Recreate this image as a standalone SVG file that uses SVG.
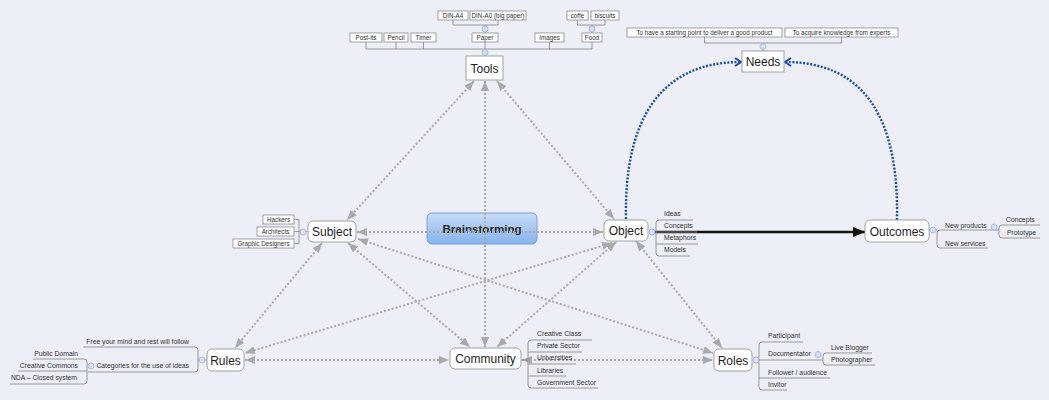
<svg xmlns="http://www.w3.org/2000/svg" width="1049" height="400" viewBox="0 0 1049 400">
<defs>
<style>
.bg{fill:#edeef6}
.node{fill:#fff;stroke:#a2a2a2;stroke-width:1}
.nt{font-family:"Liberation Sans","DejaVu Sans",sans-serif;font-size:12px;fill:#1e1e1e;text-anchor:middle}
.box{fill:#fff;stroke:#8c8c8c;stroke-width:0.8}
.bt{font-family:"Liberation Sans","DejaVu Sans",sans-serif;font-size:6.3px;fill:#333;text-anchor:middle}
.lt{font-family:"Liberation Sans","DejaVu Sans",sans-serif;font-size:6.8px;fill:#333}
.ltr{font-family:"Liberation Sans","DejaVu Sans",sans-serif;font-size:6.8px;fill:#333;text-anchor:end}
.tree{fill:none;stroke:#8e8e8e;stroke-width:0.9}
.dot{fill:#d6e0f3;stroke:#9db2da;stroke-width:0.8}
.rel{fill:none;stroke:#aaaaaa;stroke-width:2;stroke-dasharray:2 2;marker-start:url(#ga);marker-end:url(#ga)}
.need{fill:none;stroke:#1c4d9e;stroke-width:2.4;stroke-dasharray:2 1.6;marker-end:url(#ba)}
</style>
<marker id="ga" viewBox="0 0 10 8" refX="10" refY="4" markerWidth="10" markerHeight="8" markerUnits="userSpaceOnUse" orient="auto-start-reverse">
<path d="M0,0 L10,4 L0,8 Z" fill="#a9a9a9"/>
</marker>
<marker id="ba" viewBox="0 0 8 10" refX="7" refY="5" markerWidth="8" markerHeight="10" markerUnits="userSpaceOnUse" orient="auto">
<path d="M1,1 L7,5 L1,9" fill="none" stroke="#1c4d9e" stroke-width="2"/>
</marker>
<marker id="ka" viewBox="0 0 12 10" refX="12" refY="5" markerWidth="12" markerHeight="10" markerUnits="userSpaceOnUse" orient="auto">
<path d="M0,0 L12,5 L0,10 Z" fill="#111"/>
</marker>
<linearGradient id="bgrad" x1="0" y1="0" x2="0" y2="1">
<stop offset="0" stop-color="#c9dcf7"/>
<stop offset="0.5" stop-color="#a9c8f3"/>
<stop offset="1" stop-color="#86b3ee"/>
</linearGradient>
</defs>
<rect class="bg" x="0" y="0" width="1049" height="400"/>

<g id="brainstorming">
<rect x="427" y="213" width="110" height="31" rx="5" fill="url(#bgrad)" stroke="#7d9fd0" stroke-width="1"/>
<text x="482" y="233" font-family="Liberation Sans, DejaVu Sans, sans-serif" font-size="11.6" font-weight="bold" fill="#2a2a2a" text-anchor="middle">Brainstorming</text>
</g>

<g id="connectors">
<path class="rel" d="M474,81 L347,220"/>
<path class="rel" d="M497,81 L614,219"/>
<path class="rel" d="M485,81 L485,347"/>
<path class="rel" d="M357,232 L603,232"/>
<path class="rel" d="M322,243 L235,348"/>
<path class="rel" d="M348,243 L470,347"/>
<path class="rel" d="M358,239 L713,353"/>
<path class="rel" d="M612,243 L245,353"/>
<path class="rel" d="M616,242 L497,347"/>
<path class="rel" d="M636,241 L722,348"/>
<path class="rel" d="M245,360 L449,360"/>
<path class="rel" d="M522,360 L713,360"/>
<path class="need" d="M626,219 C624,120 660,62 741,62"/>
<path class="need" d="M897,220 C899,120 866,62 785,62"/>
<path d="M652,232 L865,232" fill="none" stroke="#111" stroke-width="2.4" marker-end="url(#ka)"/>
</g>

<g id="tools">
<path class="tree" d="M366,42 V49 H592 V42 M396,42 V49 M423.5,42 V49 M485,42 V56 M549.5,42 V49"/>
<path class="tree" d="M453,20 V25 H498 V20 M485,25 V33 M577.5,20 V25 H605 V20 M592,25 V33"/>
<circle class="dot" cx="485" cy="52.5" r="3"/>
<circle class="dot" cx="485" cy="29" r="3"/>
<circle class="dot" cx="592" cy="29" r="3"/>
<rect class="node" x="466" y="56" width="37" height="24" rx="0"/>
<text class="nt" x="484.5" y="72.5">Tools</text>
<rect class="box" x="438" y="11" width="30" height="9"/><text class="bt" x="453" y="18">DIN-A4</text>
<rect class="box" x="470" y="11" width="56" height="9"/><text class="bt" x="498" y="18">DIN-A0 (big paper)</text>
<rect class="box" x="567" y="11" width="21" height="9"/><text class="bt" x="577.5" y="18">coffe</text>
<rect class="box" x="591" y="11" width="28" height="9"/><text class="bt" x="605" y="18">biscuits</text>
<rect class="box" x="350" y="33" width="32" height="9"/><text class="bt" x="366" y="40">Post-its</text>
<rect class="box" x="384" y="33" width="24" height="9"/><text class="bt" x="396" y="40">Pencil</text>
<rect class="box" x="411" y="33" width="25" height="9"/><text class="bt" x="423.5" y="40">Timer</text>
<rect class="box" x="472" y="33" width="26" height="9"/><text class="bt" x="485" y="40">Paper</text>
<rect class="box" x="535" y="33" width="29" height="9"/><text class="bt" x="549.5" y="40">Images</text>
<rect class="box" x="582" y="33" width="20" height="9"/><text class="bt" x="592" y="40">Food</text>
</g>

<g id="needs">
<path class="tree" d="M704.5,37 V43 H841.5 V37 M763,43 V51"/>
<circle class="dot" cx="763" cy="46.5" r="3"/>
<rect class="box" x="627" y="28" width="155" height="9"/><text class="bt" x="704.5" y="35">To have a starting point to deliver a good product</text>
<rect class="box" x="785" y="28" width="113" height="9"/><text class="bt" x="841.5" y="35">To acquire knowledge from experts</text>
<rect class="node" x="742" y="51" width="42" height="21" rx="0"/>
<text class="nt" x="763" y="66">Needs</text>
</g>

<g id="subject">
<path class="tree" d="M294,219.5 H299 M294,231.5 H308 M294,243.5 H299 M299,219.5 V243.5"/>
<circle class="dot" cx="303" cy="232" r="3"/>
<rect class="box" x="263" y="215" width="31" height="9"/><text class="bt" x="278.5" y="222">Hackers</text>
<rect class="box" x="257" y="227" width="37" height="9"/><text class="bt" x="275.5" y="234">Architects</text>
<rect class="box" x="233" y="239" width="61" height="9"/><text class="bt" x="263.5" y="246">Graphic Designers</text>
<rect class="node" x="308" y="221" width="48" height="21" rx="5"/>
<text class="nt" x="332" y="236">Subject</text>
</g>

<g id="object">
<path class="tree" d="M693,220 H659 Q656,220 656,223 V253 Q656,256 659,256 H690 M656,232 H697 M656,244 H698"/>
<circle class="dot" cx="652" cy="232" r="3"/>
<text class="lt" x="664" y="216">Ideas</text>
<text class="lt" x="664" y="228">Concepts</text>
<text class="lt" x="664" y="240">Metaphors</text>
<text class="lt" x="664" y="252">Models</text>
<rect class="node" x="604" y="220" width="44" height="21" rx="5"/>
<text class="nt" x="626" y="235">Object</text>
</g>

<g id="outcomes">
<path class="tree" d="M929,230 H937 M990,230 H940 Q937,230 937,233 V245 Q937,248 940,248 H988 M990,230 H999 M1040,225 H1002 Q999,225 999,228 V235 Q999,238 1002,238 H1040"/>
<circle class="dot" cx="933" cy="230" r="3"/>
<circle class="dot" cx="994" cy="227" r="3"/>
<text class="lt" x="945" y="227.5">New products</text>
<text class="lt" x="945" y="245.5">New services</text>
<text class="lt" x="1006" y="222">Concepts</text>
<text class="lt" x="1007" y="235">Prototype</text>
<rect class="node" x="865" y="220" width="64" height="22" rx="5"/>
<text class="nt" x="897" y="235.5">Outcomes</text>
</g>

<g id="rules">
<path class="tree" d="M83,347 H195 Q198,347 198,350 V369 Q198,372 195,372 H88 M198,360 H207"/>
<path class="tree" d="M33,359 H84 Q87,359 87,362 V381 Q87,384 84,384 H10 M18,371 H87"/>
<circle class="dot" cx="202" cy="360" r="3"/>
<circle class="dot" cx="91" cy="366" r="3"/>
<text class="ltr" x="189" y="343.5">Free your mind and rest will follow</text>
<text class="ltr" x="189" y="367.5">Categories for the use of ideas</text>
<text class="ltr" x="78" y="355.5">Public Domain</text>
<text class="ltr" x="78" y="367.5">Creative Commons</text>
<text class="ltr" x="77" y="380">NDA – Closed system</text>
<rect class="node" x="207" y="349" width="37" height="22" rx="5"/>
<text class="nt" x="225.5" y="364.5">Rules</text>
</g>

<g id="community">
<path class="tree" d="M592,340 H531 Q528,340 528,343 V385 Q528,388 531,388 H598 M521,360 H528 M528,352 H582 M528,364 H576 M528,376 H566"/>
<text class="lt" x="537" y="335.5">Creative Class</text>
<text class="lt" x="537" y="348">Private Sector</text>
<text class="lt" x="537" y="360">Universities</text>
<text class="lt" x="537" y="372.5">Libraries</text>
<text class="lt" x="537" y="384.5">Government Sector</text>
<rect class="node" x="450" y="348" width="71" height="21" rx="5"/>
<text class="nt" x="485.5" y="363">Community</text>
</g>

<g id="roles">
<path class="tree" d="M803,342 H762 Q759,342 759,345 V387 Q759,390 762,390 H787 M752,360 H823 M759,378 H830 M872,353 H826 Q823,353 823,356 V362 Q823,365 826,365 H875"/>
<circle class="dot" cx="756" cy="360" r="3"/>
<circle class="dot" cx="818" cy="354.5" r="3"/>
<text class="lt" x="768" y="337.5">Participant</text>
<text class="lt" x="768" y="355.5">Documentator</text>
<text class="lt" x="831" y="349.5">Live Blogger</text>
<text class="lt" x="831" y="361.5">Photographer</text>
<text class="lt" x="768" y="374.5">Follower / audience</text>
<text class="lt" x="768" y="386.5">Invitor</text>
<rect class="node" x="714" y="349" width="38" height="22" rx="5"/>
<text class="nt" x="733" y="364.5">Roles</text>
</g>
</svg>
